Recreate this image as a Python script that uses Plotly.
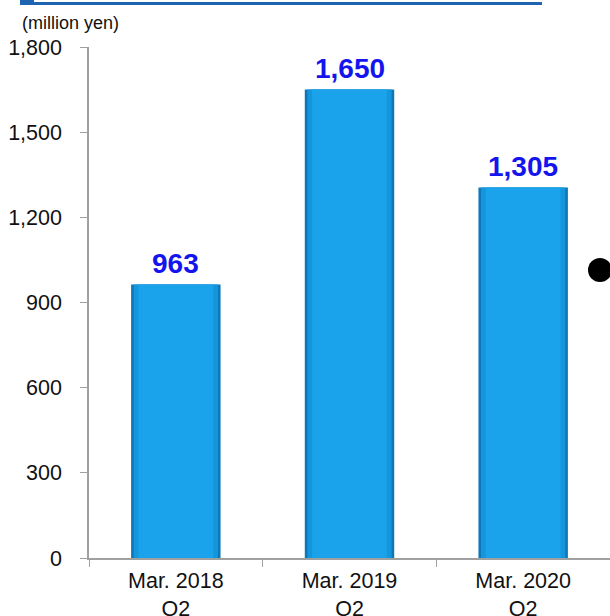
import plotly.graph_objects as go

categories = ["Mar. 2018<br>Q2", "Mar. 2019<br>Q2", "Mar. 2020<br>Q2"]
values = [963, 1650, 1305]
value_labels = ["963", "1,650", "1,305"]
y_ticks = [0, 300, 600, 900, 1200, 1500, 1800]

FONT = "Liberation Sans, Arial, sans-serif"

fig = go.Figure()

# outer darker edge of each bar
fig.add_trace(go.Bar(
    x=categories, y=values, width=0.515,
    marker=dict(color="#0c78b8", line=dict(width=0)),
    hoverinfo="skip", showlegend=False,
))
# main body
fig.add_trace(go.Bar(
    x=categories, y=values, width=0.485,
    marker=dict(color="#1596dc", line=dict(width=0)),
    hoverinfo="skip", showlegend=False,
))
# lighter core
fig.add_trace(go.Bar(
    x=categories, y=values, width=0.43,
    marker=dict(color="#1aa3ea", line=dict(width=0)),
    hoverinfo="skip", showlegend=False,
))

# value labels above each bar
annotations = [
    dict(x=c, y=v, text=f"<b>{t}</b>", xref="x", yref="y",
         xanchor="center", yanchor="bottom", yshift=4, showarrow=False,
         font=dict(family=FONT, size=28, color="#1414ee"))
    for c, v, t in zip(categories, values, value_labels)
]
annotations.append(
    dict(text="(million yen)", xref="paper", yref="paper",
         x=(20 - 89) / 521, y=(558 - 23) / 511,
         xanchor="left", yanchor="middle", showarrow=False,
         font=dict(family=FONT, size=18, color="#111111"))
)

fig.update_layout(
    barmode="overlay",
    width=610, height=616,
    margin=dict(l=89, r=0, t=47, b=58, autoexpand=False),
    paper_bgcolor="white", plot_bgcolor="white",
    font=dict(family=FONT, size=21.5, color="#111111"),
    xaxis=dict(
        showline=True, linecolor="#a0a0a0", linewidth=1.5,
        ticks="outside", tickson="boundaries", ticklen=7, tickcolor="#a0a0a0",
        tickfont=dict(family=FONT, size=21.5, color="#111111"),
        ticklabelstandoff=2, automargin=False,
        showgrid=False, range=[-0.5, 2.5],
    ),
    yaxis=dict(
        range=[0, 1800], tickvals=y_ticks, tickformat=",",
        showline=True, linecolor="#a0a0a0", linewidth=1.5,
        ticks="outside", ticklen=7, tickcolor="#a0a0a0",
        tickfont=dict(family=FONT, size=21.5, color="#111111"),
        ticklabelstandoff=14, automargin=False,
        showgrid=False, zeroline=False,
    ),
    shapes=[
        # header rule
        dict(type="rect", xref="paper", yref="paper",
             x0=(34 - 89) / 521, x1=(542 - 89) / 521,
             y0=(558 - 5) / 511, y1=(558 - 2) / 511,
             fillcolor="#1f63b3", line=dict(width=0), layer="above"),
        dict(type="rect", xref="paper", yref="paper",
             x0=(20 - 89) / 521, x1=(34 - 89) / 521,
             y0=(558 - 5) / 511, y1=(558 + 1) / 511,
             fillcolor="#1f63b3", line=dict(width=0), layer="above"),
        # bullet at right edge
        dict(type="circle", xref="paper", yref="paper",
             x0=(588 - 89) / 521, x1=(612 - 89) / 521,
             y0=(558 - 282) / 511, y1=(558 - 258) / 511,
             fillcolor="black", line=dict(width=0), layer="above"),
    ],
    annotations=annotations,
)

fig.write_html("out.html")
